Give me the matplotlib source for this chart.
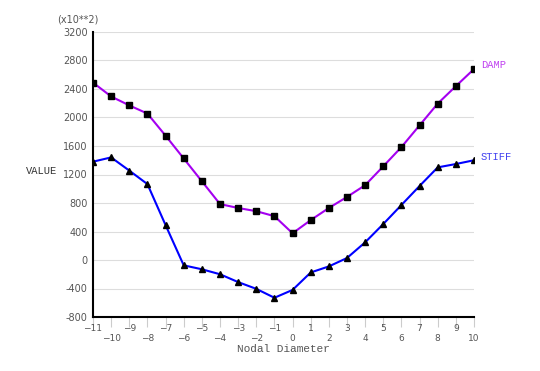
import matplotlib
matplotlib.use("Agg")
import matplotlib.pyplot as plt

nodal = list(range(-11, 11))
damp = [2490, 2295, 2170, 2055, 1745, 1425, 1105, 785, 730, 685, 615, 375,
        560, 730, 885, 1050, 1315, 1585, 1890, 2195, 2440, 2680]
stiff = [1380, 1440, 1255, 1065, 490, -75, -130, -200, -310, -405, -530, -420,
         -175, -90, 28, 248, 505, 772, 1039, 1300, 1347, 1400]
yticks = [-800, -400, 0, 400, 800, 1200, 1600, 2000, 2400, 2800, 3200]

fig = plt.figure(figsize=(5.4, 3.71), dpi=100)
ax = fig.add_axes([93/540, 1-317/371, (474-93)/540, (317-32)/371])

ax.plot(nodal, damp, color="#A400F0", lw=1.5, marker="s", ms=4.3,
        mfc="black", mec="black", zorder=3)
ax.plot(nodal, stiff, color="#0000FF", lw=1.5, marker="^", ms=5,
        mfc="black", mec="black", zorder=3)

ax.set_xlim(-11, 10)
ax.set_ylim(-800, 3200)
ax.set_yticks(yticks)
ax.set_yticklabels([str(v) for v in yticks], fontsize=7, color="#555555",
                   family="DejaVu Sans")
ax.tick_params(axis="y", length=0, pad=4)
ax.grid(axis="y", color="#dddddd", lw=0.8)
ax.set_axisbelow(True)

ax.set_xticks(nodal)
ax.set_xticklabels([])
ax.tick_params(axis="x", length=7, color="#cccccc", width=0.8)
for v in nodal:
    off = 0.042 if (v % 2) else 0.074
    ax.text(v, -off, str(v).replace("-", "\u2212"), transform=ax.get_xaxis_transform(),
            ha="center", va="center", fontsize=6.5, color="#555555")

for s in ["top", "right"]:
    ax.spines[s].set_visible(False)
for s in ["left", "bottom"]:
    ax.spines[s].set_linewidth(1.5)
    ax.spines[s].set_color("black")

fig.text(78/540, 1-20/371, "(x10**2)", ha="center", va="center",
         fontsize=7, color="#555555")
fig.text(42/540, 1-171/371, "VALUE", ha="center", va="center",
         fontsize=7.5, color="#333333", family="Liberation Mono")
fig.text(283/540, 1-349/371, "Nodal Diameter", ha="center", va="center",
         fontsize=8, color="#555555", family="Liberation Mono")
fig.text(481/540, 1-65/371, "DAMP", ha="left", va="center",
         fontsize=7.5, color="#C040F0", family="Liberation Mono")
fig.text(481/540, 1-157/371, "STIFF", ha="left", va="center",
         fontsize=7.5, color="#4040F0", family="Liberation Mono")

fig.savefig("out.png", dpi=100)
